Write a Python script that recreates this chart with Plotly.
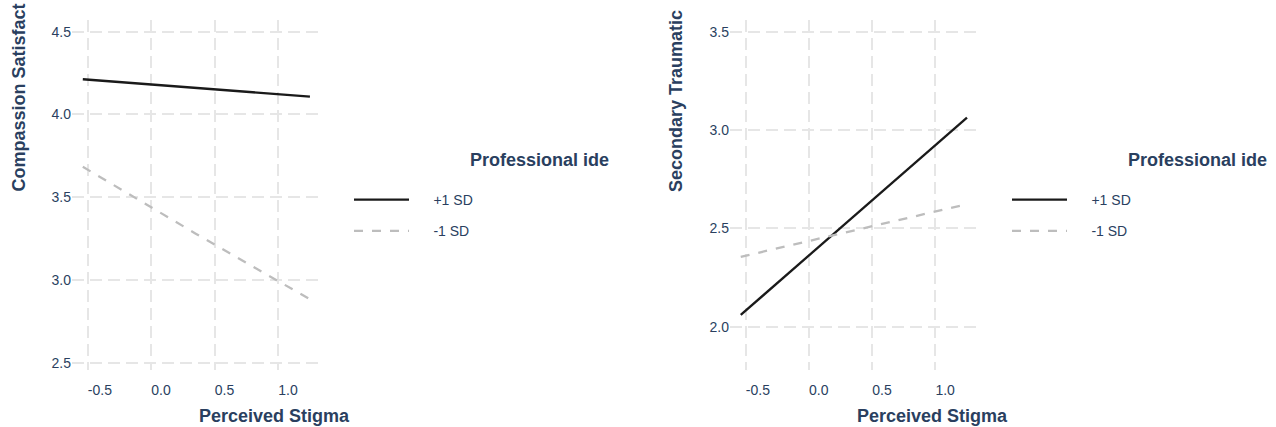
import plotly.graph_objects as go

W, H = 1276, 427

# ---- data ----
stigma = [-0.54, 0.35, 1.25]
cs_plus = [4.213, 4.160, 4.108]
cs_minus = [3.684, 3.280, 2.883]
sts_plus = [2.060, 2.560, 3.063]
sts_minus = [2.355, 2.490, 2.623]
series_names = ["+1 SD", "-1 SD"]
x_ticks = [-0.5, 0.0, 0.5, 1.0]
cs_ticks = [2.5, 3.0, 3.5, 4.0, 4.5]
sts_ticks = [2.0, 2.5, 3.0, 3.5]
y_titles = ["Compassion Satisfact", "Secondary Traumatic"]
x_title = "Perceived Stigma"
legend_title = "Professional ide"

FONT = "Liberation Sans, Arial, sans-serif"
TXT = "#2a3f5f"
GRID = "#e6e6e6"
BLACK = "#1a1a1a"
GREY = "#bdbdbd"
PAD = "\u00a0" * 5


def px_x(p):
    return p / W


def px_y(p):
    return 1 - p / H


fig = go.Figure()

panels = [
    dict(xa="x", ya="y", leg="legend", ys=(cs_plus, cs_minus)),
    dict(xa="x2", ya="y2", leg="legend2", ys=(sts_plus, sts_minus)),
]
for pnl in panels:
    for name, yv, col, dash in zip(series_names, pnl["ys"], [BLACK, GREY], ["solid", "dash"]):
        fig.add_trace(go.Scatter(
            x=stigma, y=yv, mode="lines", name=PAD + name,
            line=dict(color=col, width=2.3, dash=dash),
            xaxis=pnl["xa"], yaxis=pnl["ya"], legend=pnl["leg"],
            legendgroup=pnl["leg"] + name,
        ))

ydom = [px_y(370), px_y(20)]
axis_common = dict(
    showgrid=True, gridcolor=GRID, griddash="12px,6px", gridwidth=1.6,
    zeroline=False, showline=False,
    tickfont=dict(family=FONT, size=14, color=TXT),
)
xcommon = dict(range=[-0.625, 1.345], tickvals=x_ticks,
               ticktext=[f"{v:.1f}" for v in x_ticks],
               ticks="", ticklabelstandoff=10,
               ticklabelposition="outside right", automargin=False)

fig.update_layout(
    width=W, height=H,
    margin=dict(l=0, r=0, t=0, b=0),
    paper_bgcolor="white", plot_bgcolor="white",
    font=dict(family=FONT, color=TXT),
    xaxis=dict(domain=[px_x(72), px_x(322)], anchor="y", **xcommon, **axis_common),
    yaxis=dict(domain=ydom, range=[2.456, 4.571], tickvals=cs_ticks,
               ticktext=[f"{v:.1f}" for v in cs_ticks], anchor="x", automargin=False, **axis_common),
    xaxis2=dict(domain=[px_x(730), px_x(979)], anchor="y2", **xcommon, **axis_common),
    yaxis2=dict(domain=ydom, range=[1.780, 3.559], tickvals=sts_ticks,
                ticktext=[f"{v:.1f}" for v in sts_ticks], anchor="x2", automargin=False, **axis_common),
    legend=dict(x=px_x(349), y=px_y(184), xanchor="left", yanchor="top",
                font=dict(family=FONT, size=14, color=TXT), itemwidth=55,
                tracegroupgap=10, bgcolor="rgba(0,0,0,0)"),
    legend2=dict(x=px_x(1007), y=px_y(184), xanchor="left", yanchor="top",
                 font=dict(family=FONT, size=14, color=TXT), itemwidth=55,
                 tracegroupgap=10, bgcolor="rgba(0,0,0,0)"),
    showlegend=True,
)

title_font = dict(family=FONT, size=18, color=TXT)
ann = []
# x titles (left edge at the panel centre)
for cx in (197, 855):
    ann.append(dict(text=f"<b>{x_title}</b>", x=px_x(cx), y=px_y(416), xref="paper", yref="paper",
                    xanchor="left", yanchor="middle", showarrow=False, font=title_font))
# y titles
for cx, t in zip((18.5, 676), y_titles):
    ann.append(dict(text=f"<b>{t}</b>", x=px_x(cx), y=px_y(194), xref="paper", yref="paper",
                    xanchor="center", yanchor="bottom", textangle=-90, showarrow=False,
                    font=title_font))
# legend titles
for lx in (468, 1126):
    ann.append(dict(text=f"<b>{legend_title}</b>", x=px_x(lx), y=px_y(160), xref="paper", yref="paper",
                    xanchor="left", yanchor="middle", showarrow=False, font=title_font))
fig.update_layout(annotations=ann)

fig.write_html("out.html")
